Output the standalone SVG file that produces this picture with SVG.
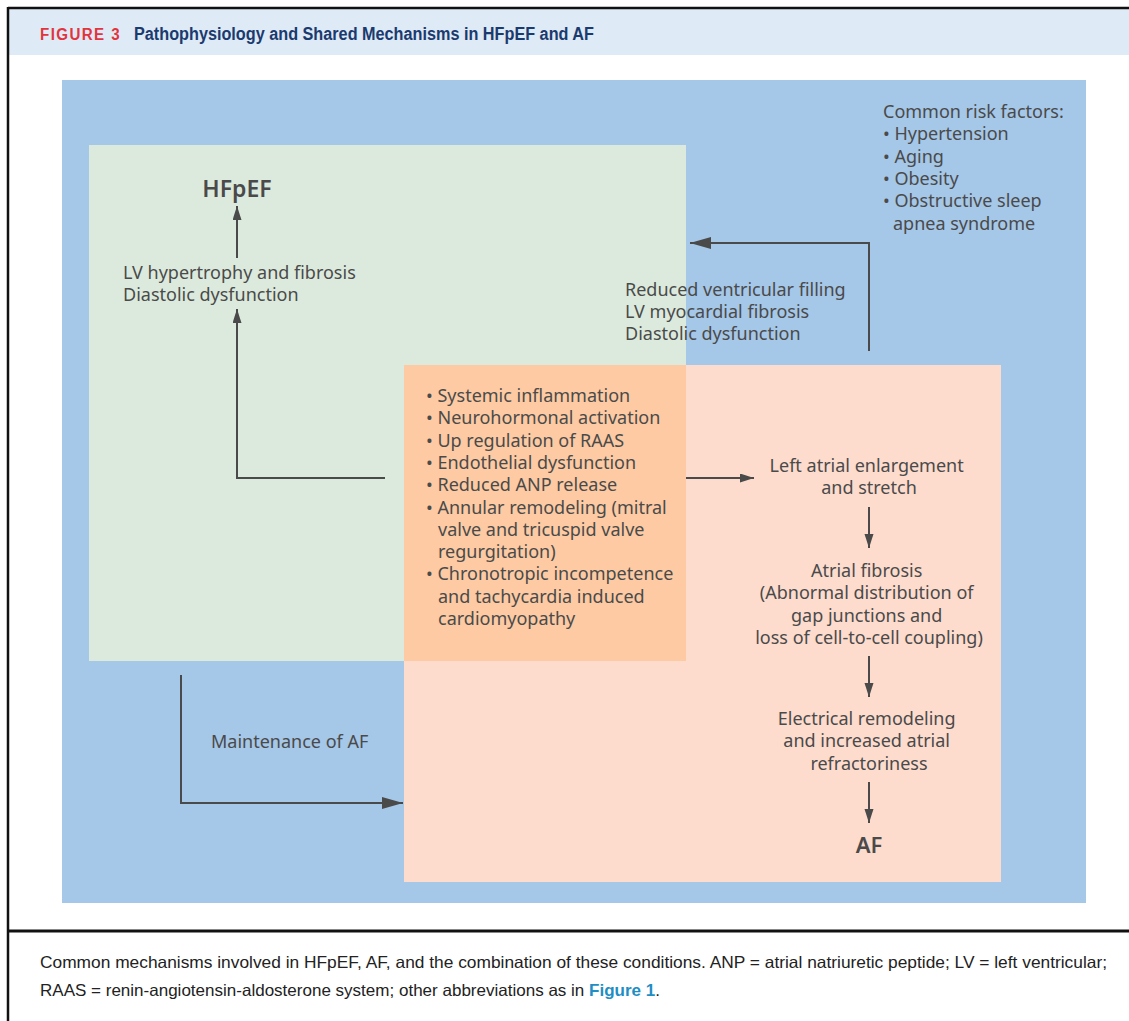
<svg xmlns="http://www.w3.org/2000/svg" width="1129" height="1021" viewBox="0 0 1129 1021">
  <defs>
    <style>
      .t { font-family: "Noto Sans", "Open Sans", sans-serif; font-size: 18px; fill: #4a4a4a; }
      .c { text-anchor: middle; }
      .big { font-family: "Noto Sans", "Open Sans", sans-serif; font-weight: 600; fill: #4a4a4a; }
      .cap { font-family: "Liberation Sans", Arial, sans-serif; font-size: 16.5px; fill: #222222; }
      .link { font-weight: bold; fill: #1f8ec4; }
      .conn { fill: none; stroke: #4a4a4a; stroke-width: 2; }
    </style>
    <marker id="ah-big" markerUnits="userSpaceOnUse" markerWidth="22" markerHeight="14" refX="21" refY="6.5" orient="auto">
      <path d="M0,0.5 L21,6.5 L0,12.5 Z" fill="#4a4a4a"/>
    </marker>
    <marker id="ah-small" markerUnits="userSpaceOnUse" markerWidth="15" markerHeight="10" refX="14" refY="4.5" orient="auto">
      <path d="M0,0 L14,4.5 L0,9 Z" fill="#4a4a4a"/>
    </marker>
  </defs>

  <rect x="0" y="0" width="1129" height="1021" fill="#ffffff"/>

  <g id="frame">
    <rect x="8" y="8" width="1121" height="47" fill="#deeaf6"/>
    <line x1="8" y1="8" x2="1129" y2="8" stroke="#111" stroke-width="2.5"/>
    <line x1="8" y1="7" x2="8" y2="1021" stroke="#111" stroke-width="2.5"/>
    <line x1="8" y1="931" x2="1129" y2="931" stroke="#111" stroke-width="3"/>
  </g>

  <g id="title">
    <text x="40" y="39.5" font-family="Liberation Sans, Arial, sans-serif" font-size="16" font-weight="bold" fill="#e2343e" letter-spacing="1.5" textLength="81" lengthAdjust="spacingAndGlyphs">FIGURE 3</text>
    <text x="134" y="39.5" font-family="Liberation Sans, Arial, sans-serif" font-size="17.5" font-weight="bold" fill="#1b3a6e" textLength="460" lengthAdjust="spacingAndGlyphs">Pathophysiology and Shared Mechanisms in HFpEF and AF</text>
  </g>

  <g id="background">
    <rect x="62" y="80" width="1024" height="823" fill="#a5c7e8"/>
  </g>

  <g id="hfpef-region">
    <rect x="89" y="145" width="597" height="516" fill="#dceadd"/>
  </g>

  <g id="af-region">
    <rect x="404" y="365" width="597" height="517" fill="#fddcce"/>
  </g>

  <g id="shared-mechanisms">
    <rect x="404" y="365" width="282" height="296" fill="#fdcaa3"/>
    <text class="t">
      <tspan x="426" y="402">• Systemic inflammation</tspan>
      <tspan x="426" y="424.3">• Neurohormonal activation</tspan>
      <tspan x="426" y="446.6">• Up regulation of RAAS</tspan>
      <tspan x="426" y="468.9">• Endothelial dysfunction</tspan>
      <tspan x="426" y="491.2">• Reduced ANP release</tspan>
      <tspan x="426" y="513.5">• Annular remodeling (mitral</tspan>
      <tspan x="438" y="535.8">valve and tricuspid valve</tspan>
      <tspan x="438" y="558.1">regurgitation)</tspan>
      <tspan x="426" y="580.4">• Chronotropic incompetence</tspan>
      <tspan x="438" y="602.7">and tachycardia induced</tspan>
      <tspan x="438" y="625">cardiomyopathy</tspan>
    </text>
  </g>

  <g id="risk-factors">
    <text class="t">
      <tspan x="883" y="118">Common risk factors:</tspan>
      <tspan x="883" y="140.3">• Hypertension</tspan>
      <tspan x="883" y="162.6">• Aging</tspan>
      <tspan x="883" y="184.9">• Obesity</tspan>
      <tspan x="883" y="207.2">• Obstructive sleep</tspan>
      <tspan x="893" y="229.5">apnea syndrome</tspan>
    </text>
  </g>

  <g id="ventricular-changes">
    <text class="t">
      <tspan x="625" y="295.5">Reduced ventricular filling</tspan>
      <tspan x="625" y="317.8">LV myocardial fibrosis</tspan>
      <tspan x="625" y="340.1">Diastolic dysfunction</tspan>
    </text>
  </g>

  <g id="hfpef">
    <text class="big c" x="237" y="197" font-size="23">HFpEF</text>
  </g>

  <g id="lv-hypertrophy">
    <text class="t">
      <tspan x="123" y="279">LV hypertrophy and fibrosis</tspan>
      <tspan x="123" y="301.3">Diastolic dysfunction</tspan>
    </text>
  </g>

  <g id="left-atrial-enlargement">
    <text class="t c">
      <tspan x="869" y="472">Left atrial enlargement</tspan>
      <tspan x="869" y="494.3">and stretch</tspan>
    </text>
  </g>

  <g id="atrial-fibrosis">
    <text class="t c">
      <tspan x="869" y="577">Atrial fibrosis</tspan>
      <tspan x="869" y="599.3">(Abnormal distribution of</tspan>
      <tspan x="869" y="621.6">gap junctions and</tspan>
      <tspan x="869" y="643.9">loss of cell-to-cell coupling)</tspan>
    </text>
  </g>

  <g id="electrical-remodeling">
    <text class="t c">
      <tspan x="869" y="725">Electrical remodeling</tspan>
      <tspan x="869" y="747.3">and increased atrial</tspan>
      <tspan x="869" y="769.6">refractoriness</tspan>
    </text>
  </g>

  <g id="af">
    <text class="big c" x="869" y="853" font-size="22">AF</text>
  </g>

  <g id="maintenance-label">
    <text class="t" x="211" y="748">Maintenance of AF</text>
  </g>

  <g id="connectors">
    <path class="conn" d="M869,351 V243 H690" marker-end="url(#ah-big)"/>
    <path class="conn" d="M181,675 V803 H403" marker-end="url(#ah-big)"/>
    <path class="conn" d="M237,258 V206" marker-end="url(#ah-small)"/>
    <path class="conn" d="M385,478 H237 V309" marker-end="url(#ah-small)"/>
    <path class="conn" d="M686,478 H754" marker-end="url(#ah-small)"/>
    <path class="conn" d="M869,507 V548" marker-end="url(#ah-small)"/>
    <path class="conn" d="M869,656 V697" marker-end="url(#ah-small)"/>
    <path class="conn" d="M869,782 V823" marker-end="url(#ah-small)"/>
  </g>

  <g id="caption">
    <text class="cap" x="40" y="968" textLength="1067" lengthAdjust="spacingAndGlyphs">Common mechanisms involved in HFpEF, AF, and the combination of these conditions. ANP = atrial natriuretic peptide; LV = left ventricular;</text>
    <text class="cap" x="40" y="996" textLength="620" lengthAdjust="spacingAndGlyphs">RAAS = renin-angiotensin-aldosterone system; other abbreviations as in <tspan class="link">Figure 1</tspan>.</text>
  </g>
</svg>
